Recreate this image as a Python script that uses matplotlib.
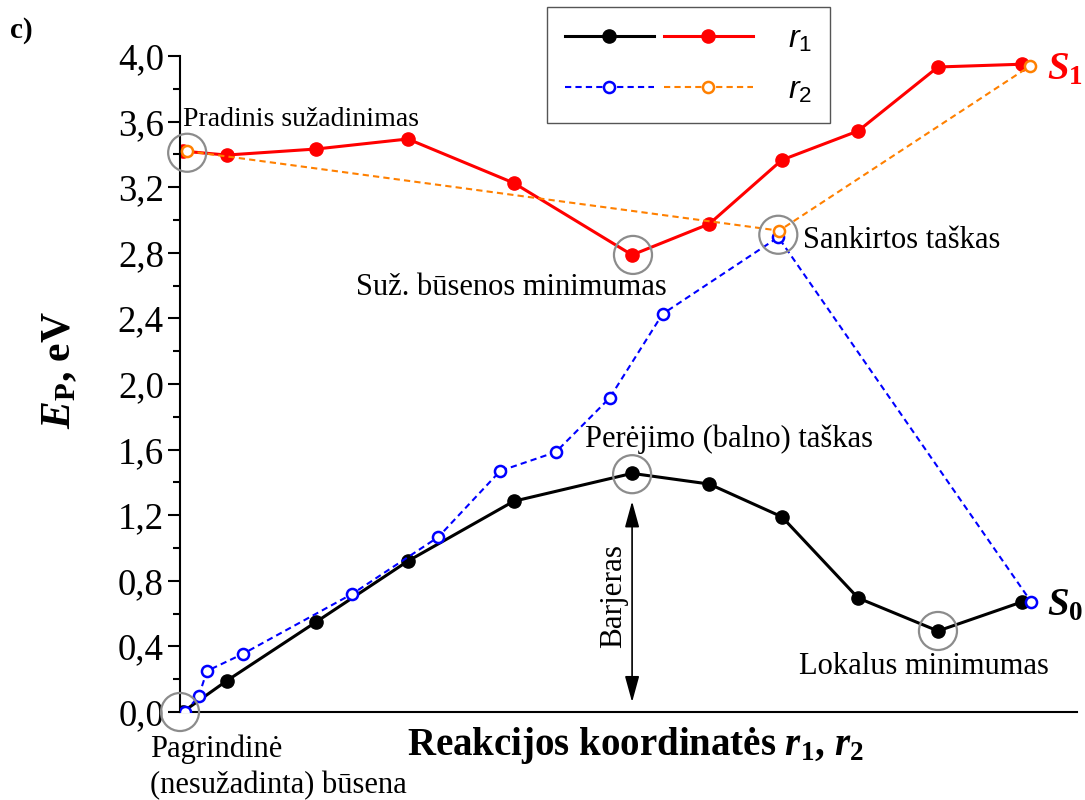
import matplotlib
matplotlib.use('Agg')
import matplotlib.pyplot as plt
from matplotlib.legend_handler import HandlerTuple
from matplotlib.ticker import MultipleLocator, FuncFormatter

plt.rcParams['font.family'] = ['Liberation Serif', 'DejaVu Serif']
plt.rcParams['mathtext.fontset'] = 'custom'
plt.rcParams['mathtext.rm'] = 'Liberation Serif'
plt.rcParams['mathtext.it'] = 'Liberation Serif:italic'
plt.rcParams['mathtext.bf'] = 'Liberation Serif:bold'
plt.rcParams['mathtext.bfit'] = 'Liberation Serif:italic:bold'
plt.rcParams['mathtext.sf'] = 'Liberation Sans:italic'

# reaction coordinate (arbitrary units, 0..1 along the axis)
x_r1 = [0.003, 0.052, 0.152, 0.254, 0.372, 0.504, 0.590, 0.671, 0.756, 0.845, 0.939]
s0_r1 = [0.0, 0.19, 0.55, 0.92, 1.285, 1.455, 1.39, 1.19, 0.695, 0.494, 0.672]
s1_r1 = [3.42, 3.396, 3.433, 3.494, 3.226, 2.787, 2.976, 3.366, 3.543, 3.933, 3.95]

x_s0_r2 = [0.006, 0.021, 0.030, 0.070, 0.192, 0.288, 0.357, 0.419, 0.479, 0.538, 0.667, 0.949]
s0_r2 = [0.0, 0.098, 0.25, 0.354, 0.72, 1.067, 1.47, 1.585, 1.915, 2.427, 2.895, 0.671]

x_s1_r2 = [0.008, 0.668, 0.948]
s1_r2 = [3.42, 2.935, 3.94]

# highlighted points (gray circles)
mark_x = [0.0, 0.008, 0.505, 0.667, 0.504, 0.845]
mark_y = [0.0, 3.41, 2.787, 2.91, 1.45, 0.494]

fig = plt.figure(figsize=(10.85, 8.0), dpi=100)
ax = fig.add_axes([180 / 1085, 88 / 800, 897 / 1085, 656 / 800])

l_black, = ax.plot(x_r1, s0_r1, '-o', color='black', lw=2.2, ms=9.5, zorder=2)
l_red, = ax.plot(x_r1, s1_r1, '-o', color='red', lw=2.2, ms=9.5, zorder=2)
l_blue, = ax.plot(x_s0_r2, s0_r2, 'o', ls=(0, (3, 2)), color='blue', lw=1.5,
                  ms=8, mfc='white', mew=1.8, zorder=3)
l_orange, = ax.plot(x_s1_r2, s1_r2, 'o', ls=(0, (3, 2)), color='#ff8000', lw=1.5,
                    ms=8, mfc='white', mew=1.8, zorder=3)

ax.scatter(mark_x, mark_y, s=750, facecolors='none', edgecolors='#8c8c8c',
           linewidths=1.6, zorder=4, clip_on=False)

ax.set_xlim(0, 1)
ax.set_ylim(0, 4.0)
ax.set_xticks([])
ax.yaxis.set_major_locator(MultipleLocator(0.4))
ax.yaxis.set_minor_locator(MultipleLocator(0.2))
ax.yaxis.set_major_formatter(FuncFormatter(lambda v, p: f'{v:.1f}'.replace('.', ',')))
ax.tick_params(axis='y', which='major', length=8.6, width=1.5, labelsize=26.5, pad=3)
ax.tick_params(axis='y', which='minor', length=5, width=1.5)
for side in ['top', 'right']:
    ax.spines[side].set_visible(False)
for side in ['left', 'bottom']:
    ax.spines[side].set_linewidth(1.5)

# annotations
fs = 22
ax.text(0.003, 3.573, 'Pradinis sužadinimas', fontsize=20, va='baseline')
ax.text(0.369, 2.543, 'Suž. būsenos minimumas', fontsize=fs, va='baseline', ha='center')
ax.text(0.694, 2.83, 'Sankirtos taškas', fontsize=fs, va='baseline')
ax.text(0.4515, 1.616, 'Perėjimo (balno) taškas', fontsize=fs, va='baseline')
ax.text(0.829, 0.232, 'Lokalus minimumas', fontsize=fs, va='baseline', ha='center')
ax.text(-0.033, -0.274, 'Pagrindinė', fontsize=fs, va='baseline')
ax.text(-0.033, -0.494, '(nesužadinta) būsena', fontsize=fs, va='baseline')
ax.text(0.483, 0.707, 'Barjeras', fontsize=22.5, rotation=90, ha='center', va='center')
ax.annotate('', xy=(0.504, 0.06), xytext=(0.504, 1.285),
            arrowprops=dict(arrowstyle='<|-|>,head_length=0.8,head_width=0.22',
                            color='black', lw=1.2, mutation_scale=20,
                            shrinkA=0, shrinkB=0))

ax.text(0.966, 3.86, r'$\mathbfit{S}_{\mathbf{1}}$', fontsize=28, color='red', va='baseline')
ax.text(0.966, 0.59, r'$\mathbfit{S}_{\mathbf{0}}$', fontsize=28, color='black', va='baseline')

fig.text(0.586, 0.056, r'Reakcijos koordinatės $\mathbfit{r}_{\mathbf{1}}$, $\mathbfit{r}_{\mathbf{2}}$',
         fontsize=28, fontweight='bold', ha='center', va='baseline')
fig.text(0.055, 0.5375, r'$\mathbfit{E}_{\mathbf{P}}$, eV', fontsize=30, fontweight='bold',
         rotation=90, ha='center', va='center')
fig.text(10 / 1085, 1 - 30 / 800, 'c)', fontsize=21, fontweight='bold', va='center')

# legend
leg = fig.legend([(l_black, l_red), (l_blue, l_orange)],
                 [r'$\mathsf{r}_{\mathregular{1}}$', r'$\mathsf{r}_{\mathregular{2}}$'],
                 handler_map={tuple: HandlerTuple(ndivide=None, pad=0.3)},
                 loc='upper left', bbox_to_anchor=(547 / 1085, 1 - 7 / 800),
                 bbox_transform=fig.transFigure, borderaxespad=0,
                 prop={'family': 'Liberation Sans', 'size': 23},
                 handlelength=5.9, handletextpad=1.1, borderpad=0.55, labelspacing=0.65,
                 fancybox=False, framealpha=1, edgecolor='#555555', markerscale=1.0)
leg.get_frame().set_linewidth(1.0)

fig.savefig('out.png', dpi=100)
